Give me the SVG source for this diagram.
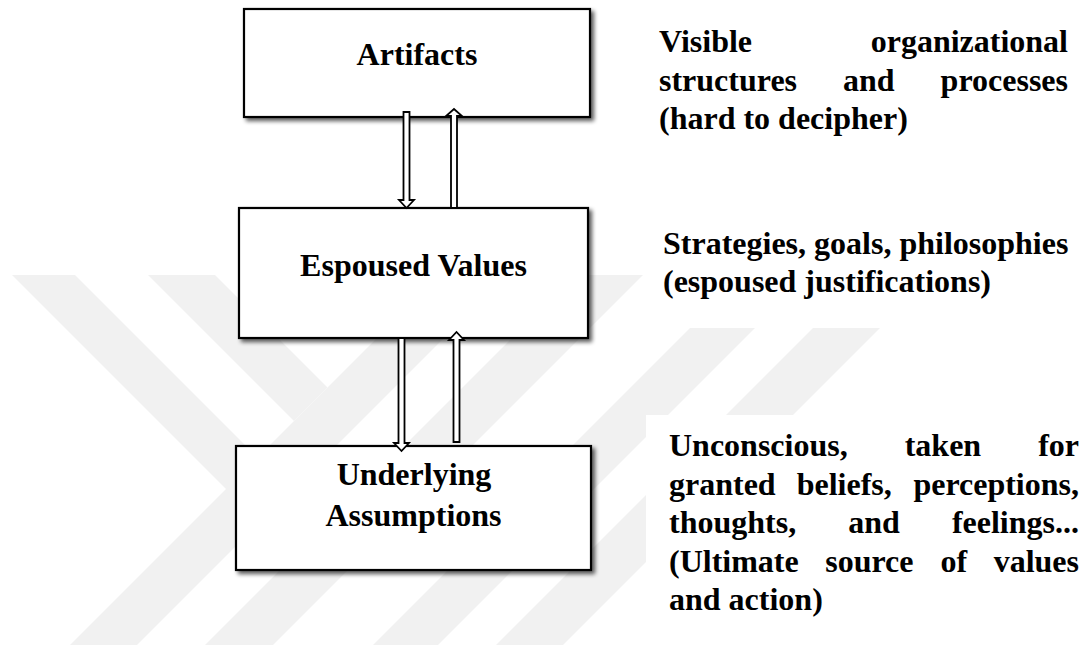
<svg xmlns="http://www.w3.org/2000/svg" width="1083" height="645" viewBox="0 0 1083 645">
  <style>
    .wm { fill: #f1f1f1; }
    .box { fill: #ffffff; stroke: #000000; stroke-width: 2.2; filter: url(#shadow); }
    .arrow { fill: #ffffff; stroke: #000000; stroke-width: 1.8; stroke-linejoin: miter; }
    .t { font-family: 'Liberation Serif', 'Times New Roman', serif; font-weight: bold; font-size: 32px; fill: #000000; }
    .c { text-anchor: middle; }
    .e { text-anchor: end; }
  </style>
  <defs>
    <filter id="shadow" x="-10%" y="-10%" width="125%" height="130%">
      <feGaussianBlur in="SourceAlpha" stdDeviation="2"/>
      <feOffset dx="3" dy="3" result="b"/>
      <feComponentTransfer in="b" result="s">
        <feFuncA type="linear" slope="0.65"/>
      </feComponentTransfer>
      <feMerge>
        <feMergeNode in="s"/>
        <feMergeNode in="SourceGraphic"/>
      </feMerge>
    </filter>
  </defs>
  <rect x="0" y="0" width="1083" height="645" fill="#ffffff"/>

  <g id="watermark">
    <polygon class="wm" points="12,275 75,275 325,525 293.5,556.5"/>
    <polygon class="wm" points="148,275 215,275 327.5,387.5 294,421"/>
    <polygon class="wm" points="440,275 507,275 137,645 70,645"/>
    <polygon class="wm" points="575,275 643,275 273,645 205,645"/>
    <polygon class="wm" points="690,328 755,328 438,645 373,645"/>
    <polygon class="wm" points="813,328 880,328 563,645 496,645"/>
    <rect x="646" y="415" width="437" height="230" fill="#ffffff"/>
  </g>

  <g id="node-artifacts">
    <rect class="box" x="244" y="9" width="346" height="108"/>
    <text class="t c" x="417" y="65">Artifacts</text>
  </g>

  <g id="node-espoused">
    <rect class="box" x="239" y="208" width="349" height="130"/>
    <text class="t c" x="413.5" y="276">Espoused Values</text>
  </g>

  <g id="node-underlying">
    <rect class="box" x="236" y="446" width="355" height="124"/>
    <text class="t c" x="414" y="485">Underlying</text>
    <text class="t c" x="413.5" y="526">Assumptions</text>
  </g>

  <g id="connectors">
    <path class="arrow" d="M403.5,112 H409.5 V200 H414 L406.5,208 L399,200 H403.5 Z"/>
    <path class="arrow" d="M451,208 V116 H446 L454,109 L462,116 H457 V208 Z"/>
    <path class="arrow" d="M398.5,338 H404.5 V443 H409 L401.5,451 L394,443 H398.5 Z"/>
    <path class="arrow" d="M453.5,442 V340 H449 L456.5,332 L464,340 H459.5 V442 Z"/>
  </g>

  <g id="desc-artifacts">
    <text class="t" x="659" y="52">Visible</text>
    <text class="t e" x="1068" y="52">organizational</text>
    <text class="t" x="659" y="90.5">structures</text>
    <text class="t" x="843" y="90.5">and</text>
    <text class="t e" x="1068" y="90.5">processes</text>
    <text class="t" x="659" y="129">(hard to decipher)</text>
  </g>

  <g id="desc-espoused">
    <text class="t" x="663" y="254">Strategies, goals, philosophies</text>
    <text class="t" x="663" y="292">(espoused justifications)</text>
  </g>

  <g id="desc-underlying">
    <text class="t" x="669" y="456">Unconscious,</text>
    <text class="t" x="904.7" y="456">taken</text>
    <text class="t e" x="1079" y="456">for</text>
    <text class="t" x="669" y="494.5">granted</text>
    <text class="t" x="796.7" y="494.5">beliefs,</text>
    <text class="t e" x="1079" y="494.5">perceptions,</text>
    <text class="t" x="669" y="533">thoughts,</text>
    <text class="t" x="848.2" y="533">and</text>
    <text class="t e" x="1079" y="533">feelings...</text>
    <text class="t" x="669" y="571.5">(Ultimate</text>
    <text class="t" x="825.2" y="571.5">source</text>
    <text class="t" x="940.6" y="571.5">of</text>
    <text class="t e" x="1079" y="571.5">values</text>
    <text class="t" x="669" y="610">and action)</text>
  </g>
</svg>
